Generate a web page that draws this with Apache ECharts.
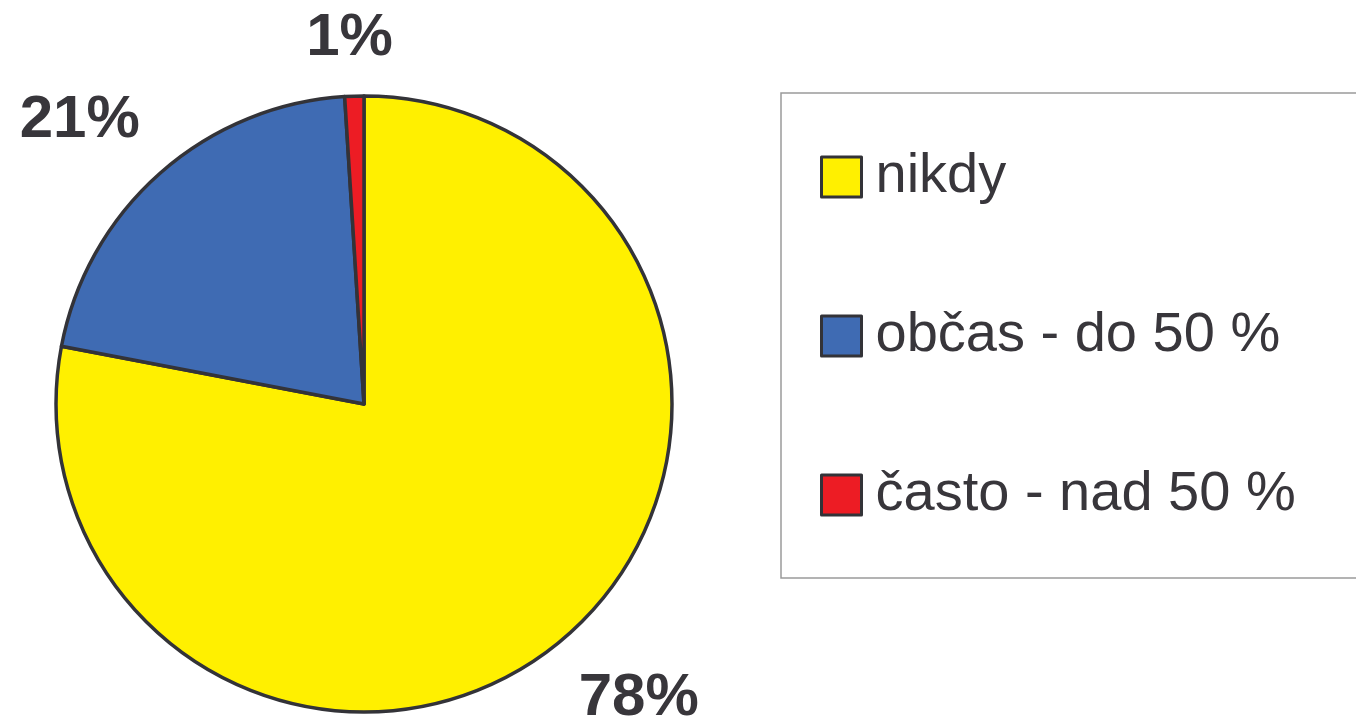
<!DOCTYPE html>
<html>
<head>
<meta charset="utf-8">
<script src="https://cdn.jsdelivr.net/npm/echarts@6/dist/echarts.min.js"></script>
<style>
  html, body { margin: 0; padding: 0; background: #fff; }
  #pieChart { width: 1356px; height: 717px; }
</style>
</head>
<body>
<div id="pieChart"></div>
<script>
var categories = ['nikdy', 'občas - do 50 %', 'často - nad 50 %'];
var values = [78, 21, 1];
var colors = ['#fff000', '#3f6bb3', '#ed1c24'];

var myChart = echarts.init(document.getElementById('pieChart'));

// label nudges so the percentages sit where the original placed them
var labelOffsets = [[21, -12], [-21, 15], [-2, 32]];

var pieData = [];
var labelData = [];
for (var i = 0; i < categories.length; i++) {
  pieData.push({
    name: categories[i],
    value: values[i],
    itemStyle: { color: colors[i] }
  });
  labelData.push({
    name: categories[i],
    value: values[i],
    label: { offset: labelOffsets[i] }
  });
}

var option = {
  backgroundColor: '#ffffff',
  animation: false,
  legend: {
    orient: 'vertical',
    left: 781,
    top: 93,
    padding: [56, 120, 55, 39],
    itemWidth: 40,
    itemHeight: 40,
    itemGap: 103,
    icon: 'rect',
    borderColor: '#9a9a9a',
    borderWidth: 1.5,
    itemStyle: { borderColor: '#333338', borderWidth: 3 },
    textStyle: {
      fontFamily: 'Liberation Sans, Arial, sans-serif',
      fontSize: 56,
      color: '#38363b',
      padding: [4, 0, 0, 9]
    },
    data: categories
  },
  series: [
    {
      name: 'pie',
      type: 'pie',
      center: [364, 404],
      radius: 308,
      startAngle: 90,
      clockwise: true,
      silent: true,
      label: { show: false },
      labelLine: { show: false },
      itemStyle: { borderColor: '#333338', borderWidth: 3.5 },
      data: pieData
    },
    {
      name: 'labels',
      type: 'pie',
      center: [364, 404],
      radius: [394, 396],
      startAngle: 90,
      clockwise: true,
      silent: true,
      legendHoverLink: false,
      itemStyle: { color: 'rgba(0,0,0,0)' },
      labelLine: { show: false },
      label: {
        show: true,
        position: 'inside',
        formatter: '{c}%',
        fontFamily: 'Liberation Sans, Arial, sans-serif',
        fontWeight: 'bold',
        fontSize: 60,
        color: '#38363b'
      },
      data: labelData
    }
  ]
};

myChart.setOption(option);
</script>
</body>
</html>
